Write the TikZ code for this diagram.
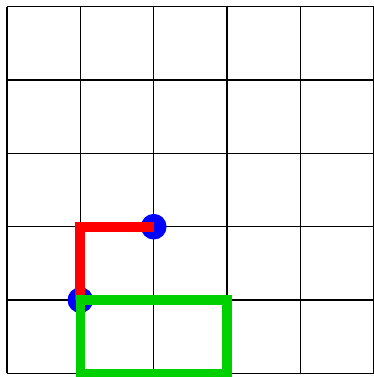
\documentclass[tikz,border=0pt]{standalone}
\usepackage{tikz}
\definecolor{boxgreen}{RGB}{0,208,0}

\begin{document}
\begin{tikzpicture}[
   gridline/.style={line width=0.5pt},
   spot/.style={circle,fill=blue,inner sep=0pt,minimum size=3.5mm},
   redpath/.style={red,line width=3.9pt},
   greenbox/.style={draw=boxgreen,line width=3.6pt}
 ]
  \useasboundingbox (-0.095,-0.048) rectangle (4.993,5.089);
  \draw[gridline] (0,0) grid (5,5);
  \node[spot] (start) at (1,1) {};
  \node[spot] (goal) at (2,2) {};
  \draw[redpath] (start.center) |- (goal.center);
  \draw[greenbox] (1,0) rectangle (3,1);
 \end{tikzpicture}
\end{document}
